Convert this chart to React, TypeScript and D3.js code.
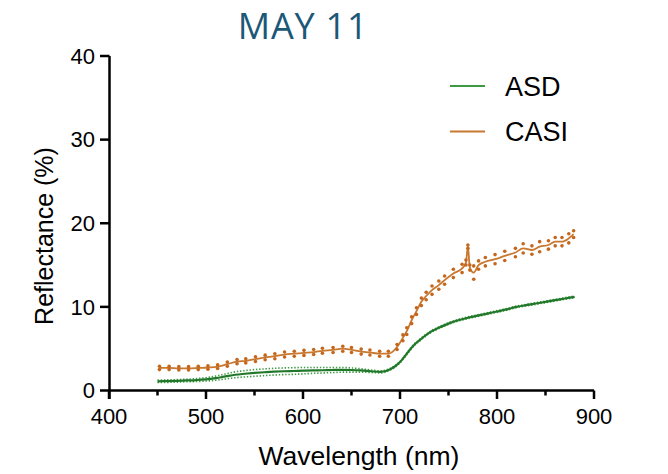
import React from "react";
import * as d3 from "d3";

// ASD field spectrometer: mean reflectance with ±SD
const asdWl = [450, 460, 470, 480, 490, 500, 510, 520, 530, 540, 550, 560, 570, 580, 590, 600, 610, 620, 630, 640, 650, 660, 670, 680, 690, 695, 700, 705, 710, 715, 720, 730, 740, 750, 760, 770, 780, 790, 800, 810, 820, 830, 840, 850, 860, 870, 880];
const asdMean = [1.1, 1.12, 1.15, 1.2, 1.25, 1.33, 1.48, 1.68, 1.88, 2.0, 2.1, 2.18, 2.25, 2.3, 2.33, 2.37, 2.4, 2.42, 2.45, 2.47, 2.45, 2.4, 2.3, 2.22, 2.55, 2.9, 3.4, 4.1, 4.85, 5.5, 6.0, 6.9, 7.5, 8.0, 8.4, 8.7, 8.95, 9.2, 9.45, 9.7, 10.0, 10.2, 10.4, 10.6, 10.8, 11.0, 11.2];
const asdSd = [0.15, 0.15, 0.15, 0.15, 0.18, 0.2, 0.25, 0.3, 0.35, 0.38, 0.4, 0.4, 0.4, 0.4, 0.4, 0.38, 0.35, 0.33, 0.3, 0.28, 0.25, 0.2, 0.15, 0.12, 0.1, 0.1, 0.1, 0.1, 0.1, 0.1, 0.1, 0.1, 0.1, 0.1, 0.1, 0.1, 0.1, 0.1, 0.1, 0.1, 0.1, 0.1, 0.1, 0.1, 0.1, 0.1, 0.1];

// CASI airborne imager: band mean reflectance with ±SD
const casiWl = [452, 462, 472, 482, 492, 502, 512, 522, 532, 541, 551, 561, 571, 581, 591, 601, 611, 620, 631, 641, 650, 660, 669, 679, 688, 697, 703, 707, 712, 717, 722, 727, 733, 740, 746, 755, 764, 768, 770, 772, 776, 781, 788, 798, 808, 819, 827, 836, 844, 853, 860, 867, 874, 879];
const casiMean = [2.7, 2.7, 2.65, 2.65, 2.7, 2.75, 2.85, 3.15, 3.45, 3.55, 3.75, 3.95, 4.1, 4.3, 4.4, 4.5, 4.6, 4.75, 4.85, 5.0, 4.85, 4.65, 4.55, 4.4, 4.4, 5.2, 6.3, 7.1, 8.4, 9.5, 10.6, 11.3, 12.0, 12.6, 13.2, 14.0, 14.6, 15.3, 17.2, 14.7, 14.1, 15.0, 15.4, 15.7, 16.1, 16.5, 17.0, 16.8, 17.2, 17.4, 17.8, 17.8, 18.2, 18.7];
const casiSd = [0.2, 0.2, 0.2, 0.2, 0.2, 0.2, 0.22, 0.25, 0.25, 0.25, 0.28, 0.28, 0.3, 0.3, 0.3, 0.3, 0.3, 0.3, 0.3, 0.3, 0.3, 0.3, 0.3, 0.3, 0.3, 0.3, 0.35, 0.4, 0.4, 0.4, 0.45, 0.45, 0.5, 0.5, 0.5, 0.5, 0.5, 0.3, 0.2, 0.3, 0.8, 0.5, 0.5, 0.55, 0.55, 0.5, 0.55, 0.5, 0.6, 0.5, 0.5, 0.5, 0.55, 0.4];

const yTicks = [0, 10, 20, 30, 40];
const xMajor = [400, 500, 600, 700, 800, 900];
const xMinor = [450, 550, 650, 750, 850];

const GREEN = "#22782a";
const GREEN_LIGHT = "#3d9a43";
const ORANGE = "#c8782f";
const ORANGE_DOT = "#c4661c";

export default function App() {
  const x = d3.scaleLinear().domain([400, 900]).range([109, 594]);
  const y = d3.scaleLinear().domain([0, 40]).range([390.5, 56]);

  const line = (wl: number[], v: number[]) =>
    d3
      .line<number>()
      .x((_, i) => x(wl[i]))
      .y((d) => y(d))
      .curve(d3.curveMonotoneX)(v) as string;

  const asdUpper = asdMean.map((m, i) => m + asdSd[i]);
  const asdLower = asdMean.map((m, i) => m - asdSd[i]);

  const axisFont = "'Liberation Sans', Arial, sans-serif";

  return (
    <svg width={668} height={474} style={{ position: "absolute", left: 0, top: 0 }}>
      <rect width={668} height={474} fill="#fff" />
      <text x={303} y={38.5} textAnchor="middle" fontFamily="'Open Sans', sans-serif" fontSize={36} letterSpacing={0.8} fill="#1b5878">
        MAY 11
      </text>

      {/* ASD error envelope */}
      <path d={line(asdWl, asdUpper)} fill="none" stroke={GREEN_LIGHT} strokeWidth={1.6} strokeDasharray="1.4 1.8" />
      <path d={line(asdWl, asdLower)} fill="none" stroke={GREEN_LIGHT} strokeWidth={1.6} strokeDasharray="1.4 1.8" />
      <path d={line(asdWl, asdMean)} fill="none" stroke={GREEN} strokeWidth={2.2} />

      {/* CASI mean line and SD points */}
      <path d={line(casiWl, casiMean)} fill="none" stroke={ORANGE} strokeWidth={1.8} />
      {casiWl.map((w, i) => (
        <g key={w}>
          <circle cx={x(w)} cy={y(casiMean[i] + casiSd[i])} r={1.8} fill={ORANGE_DOT} />
          <circle cx={x(w)} cy={y(casiMean[i] - casiSd[i])} r={1.8} fill={ORANGE_DOT} />
        </g>
      ))}

      {/* axes */}
      <g stroke="#000" strokeWidth={2.5} fill="none">
        <line x1={109.5} y1={56} x2={109.5} y2={399} />
        <line x1={109.5} y1={390.5} x2={594} y2={390.5} />
        {yTicks.map((t) => (
          <line key={t} x1={100} x2={109.5} y1={y(t)} y2={y(t)} />
        ))}
        {xMajor.map((t) => (
          <line key={t} x1={x(t)} x2={x(t)} y1={390.5} y2={399} />
        ))}
        {xMinor.map((t) => (
          <line key={t} x1={x(t)} x2={x(t)} y1={390.5} y2={395.5} />
        ))}
      </g>
      <g fontFamily={axisFont} fontSize={22} fill="#000">
        {yTicks.map((t) => (
          <text key={t} x={95} y={y(t)} dy="0.35em" textAnchor="end">
            {t}
          </text>
        ))}
        {xMajor.map((t) => (
          <text key={t} x={x(t)} y={424} textAnchor="middle">
            {t}
          </text>
        ))}
      </g>
      <text x={359} y={465} textAnchor="middle" fontFamily={axisFont} fontSize={26.5} fill="#000">
        Wavelength (nm)
      </text>
      <text
        transform="translate(53,236) rotate(-90)"
        textAnchor="middle"
        fontFamily={axisFont}
        fontSize={25}
        fill="#000"
      >
        Reflectance (%)
      </text>

      {/* legend */}
      <line x1={450} x2={485} y1={86} y2={86} stroke={GREEN_LIGHT} strokeWidth={2} />
      <text x={505} y={96} fontFamily={axisFont} fontSize={27} fill="#000">ASD</text>
      <line x1={450} x2={485} y1={131.5} y2={131.5} stroke={ORANGE} strokeWidth={2} />
      <text x={505} y={141} fontFamily={axisFont} fontSize={27} fill="#000">CASI</text>
    </svg>
  );
}
